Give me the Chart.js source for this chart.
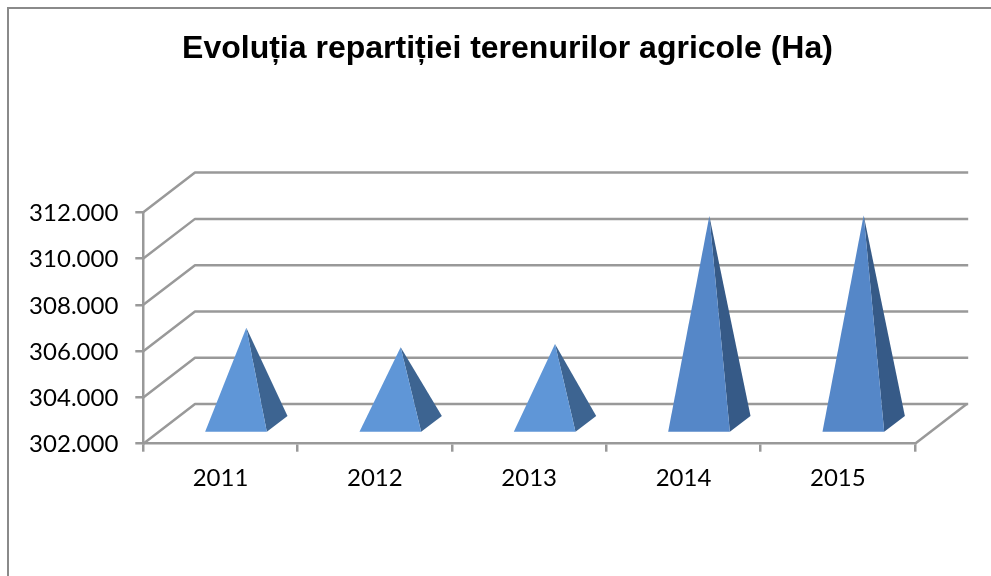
<!DOCTYPE html>
<html>
<head>
<meta charset="utf-8">
<style>html,body{margin:0;padding:0;background:#fff}canvas{display:block}</style>
<script src="https://cdn.jsdelivr.net/npm/chart.js@4/dist/chart.umd.min.js"></script>
</head>
<body>
<div style="width:991px;height:576px"><canvas id="c" width="991" height="576"></canvas></div>
<script>
const titleText = 'Evoluția repartiției terenurilor agricole (Ha)';
const categories = ['2011', '2012', '2013', '2014', '2015'];
const values = [306150, 305310, 305450, 310980, 311020];
const yMin = 302000, yMax = 312000, yStep = 2000;
const frontColors = ['#5F96D7', '#5F96D7', '#5F96D7', '#5587C8', '#5587C8'];
const sideColors = ['#3D6491', '#3D6491', '#3D6491', '#365A87', '#365A87'];
const lineColor = '#999999';
const depthX = 51.7, depthY = 39.7, halfW = 30.85, gridRightExtra = 1.5;

const scene = {
  id: 'scene',
  beforeDraw(chart) {
    const c = chart.ctx;
    c.save();
    c.strokeStyle = '#8a8a8a';
    c.lineWidth = 2;
    c.beginPath();
    c.moveTo(991, 8); c.lineTo(8, 8); c.lineTo(8, 576);
    c.stroke();
    c.restore();
  },
  beforeDatasetsDraw(chart) {
    const c = chart.ctx, y = chart.scales.y, x = chart.scales.x;
    const L = x.left, R = x.right;
    c.save();
    c.strokeStyle = lineColor;
    c.lineWidth = 2.5;
    c.lineJoin = 'round';
    y.ticks.forEach(t => {
      const py = y.getPixelForValue(t.value);
      c.beginPath();
      c.moveTo(L, py);
      c.lineTo(L + depthX, py - depthY);
      c.lineTo(R + depthX + gridRightExtra, py - depthY);
      c.stroke();
    });
    const py0 = y.getPixelForValue(yMin);
    c.beginPath();
    c.moveTo(R, py0);
    c.lineTo(R + depthX, py0 - depthY);
    c.stroke();
    c.restore();
  },
  afterDatasetsDraw(chart) {
    const c = chart.ctx, y = chart.scales.y;
    const meta = chart.getDatasetMeta(0);
    const floor = y.getPixelForValue(yMin) - depthY / 2;
    const hx = depthX * 0.2, hy = depthY * 0.197;
    meta.data.forEach((bar, i) => {
      const cx = bar.x + depthX / 2;
      const apexX = cx, apexY = bar.y - depthY / 2;
      const fl = cx - halfW - hx, fr = cx + halfW - hx, by = floor + hy;
      const br = cx + halfW + hx, bry = floor - hy;
      c.save();
      c.lineJoin = 'round';
      c.fillStyle = sideColors[i];
      c.beginPath();
      c.moveTo(apexX, apexY); c.lineTo(fr, by); c.lineTo(br, bry); c.closePath();
      c.fill();
      c.fillStyle = frontColors[i];
      c.beginPath();
      c.moveTo(apexX, apexY); c.lineTo(fl, by); c.lineTo(fr, by); c.closePath();
      c.fill();
      c.restore();
    });
  }
};

new Chart(document.getElementById('c'), {
  type: 'bar',
  data: {
    labels: categories,
    datasets: [{ data: values, backgroundColor: 'rgba(0,0,0,0)', borderWidth: 0 }]
  },
  plugins: [scene],
  options: {
    responsive: false,
    animation: false,
    layout: { autoPadding: false, padding: { left: 24, right: 0, top: 0, bottom: 0 } },
    plugins: {
      legend: { display: false },
      tooltip: { enabled: false },
      title: {
        display: true,
        text: titleText,
        color: '#000',
        font: { family: '"Liberation Sans"', size: 32, weight: 'bold', lineHeight: 1.2 },
        padding: { top: 30, bottom: 143.9 }
      }
    },
    scales: {
      x: {
        afterFit(s) { s.height = 132.3; },
        grid: { drawOnChartArea: false, color: lineColor, lineWidth: 2.5, tickLength: 8 },
        border: { color: lineColor, width: 2.5 },
        ticks: { color: '#000', padding: 12, maxRotation: 0, font: { family: 'Lato', size: 24 } }
      },
      y: {
        min: yMin, max: yMax,
        afterFit(s) { s.width = 119.3; },
        grid: { drawOnChartArea: false, color: lineColor, lineWidth: 2.5, tickLength: 8 },
        border: { color: lineColor, width: 2.5 },
        ticks: {
          stepSize: yStep, color: '#000', padding: 17, labelOffset: 1,
          font: { family: 'Lato', size: 24 },
          callback: v => String(v).replace(/(\d{3})$/, '.$1')
        }
      },
      rightGap: {
        type: 'linear',
        position: 'right',
        afterFit(s) { s.width = 76; },
        grid: { display: false },
        border: { display: false },
        ticks: { display: false }
      }
    }
  }
});
</script>
</body>
</html>
